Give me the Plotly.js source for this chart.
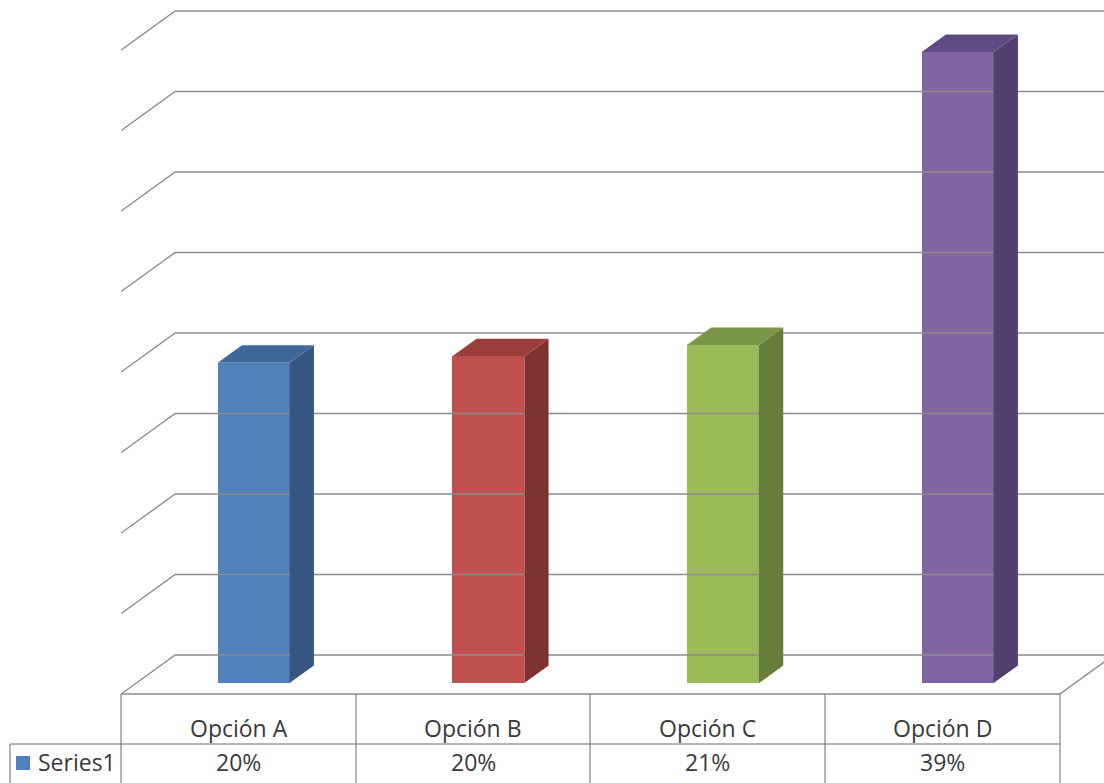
<!DOCTYPE html>
<html>
<head>
<meta charset="utf-8">
<script src="https://cdn.plot.ly/plotly-3.0.1.min.js"></script>
<style>
  html, body { margin: 0; padding: 0; background: #ffffff; overflow: hidden; }
  #chart { width: 1104px; height: 783px; }
</style>
</head>
<body>
<div id="chart"></div>
<script>
// ---- Data ----
const categories = ['Opción A', 'Opción B', 'Opción C', 'Opción D'];
const values = [19.9, 20.3, 21.0, 39.2];          // percent
const seriesName = 'Series1';
const gridValues = [0, 5, 10, 15, 20, 25, 30, 35, 40];

// ---- Styles ----
const frontColors = ['#4f81bd', '#c0504d', '#9bbb59', '#8064a2'];
const sideColors  = ['#35567f', '#7e3331', '#667d3b', '#533f6d'];
const topColors   = ['#3f6899', '#9b3e3b', '#7c9647', '#604b82'];
const gridColor = '#8c8c8c';
const tableColor = '#6a6a6a';
const textColor = '#3a3a3a';
const FONT = 'Open Sans, Noto Sans, sans-serif';

// ---- 3D projection geometry (oblique) ----
const W = 1104, H = 783;
const PX_PER_CAT = 234.67, X0_PX = 238.5;   // category 0 at front plane
const PX_PER_PCT = 16.1,   Y0_PX = 655;     // 0% on back wall
const DX = 54 / PX_PER_CAT;                 // full depth x-shift (front -> back)
const DY = 39 / PX_PER_PCT;                 // full depth y-shift (front -> back)
const BAR_W = 72 / PX_PER_CAT;
const D_FRONT = 0.28, D_BACK = 0.73;        // bar depth extent (0 = front, 1 = back)
const WALL_L = -0.5, WALL_R = 3.5;          // floor extent on front plane

function P(c, v, d) { return [c + d * DX, v - (1 - d) * DY]; }

const traces = [];

// Gridlines: left wall diagonal + back wall horizontal
gridValues.forEach(g => {
  const a = P(WALL_L, g, 0), b = P(WALL_L, g, 1), e = P(WALL_R, g, 1);
  traces.push({type: 'scatter', mode: 'lines', x: [a[0], b[0], e[0]], y: [a[1], b[1], e[1]],
    line: {color: gridColor, width: 1.4}, hoverinfo: 'skip', showlegend: false});
});
// Floor front edge and right diagonal
{
  const a = P(WALL_L, 0, 0), b = P(WALL_R, 0, 0), e = P(WALL_R, 0, 1);
  traces.push({type: 'scatter', mode: 'lines', x: [a[0], b[0], e[0]], y: [a[1], b[1], e[1]],
    line: {color: gridColor, width: 1.4}, hoverinfo: 'skip', showlegend: false});
}

// Bar front faces through the bar trace
const idx = categories.map((_, i) => i);
traces.push({
  type: 'bar', name: seriesName,
  x: idx.map(i => i + D_FRONT * DX),
  y: values,
  base: -(1 - D_FRONT) * DY,
  width: BAR_W,
  marker: {color: frontColors, line: {width: 0}},
  showlegend: false, hoverinfo: 'skip'
});

// Side and top faces
idx.forEach(i => {
  const v = values[i], hw = BAR_W / 2;
  const s = [P(i + hw, 0, D_FRONT), P(i + hw, v, D_FRONT), P(i + hw, v, D_BACK), P(i + hw, 0, D_BACK)];
  traces.push({type: 'scatter', mode: 'lines', fill: 'toself', fillcolor: sideColors[i],
    x: s.map(p => p[0]).concat([s[0][0]]), y: s.map(p => p[1]).concat([s[0][1]]),
    line: {width: 0, color: sideColors[i]}, hoverinfo: 'skip', showlegend: false});
  const t = [P(i - hw, v, D_FRONT), P(i + hw, v, D_FRONT), P(i + hw, v, D_BACK), P(i - hw, v, D_BACK)];
  traces.push({type: 'scatter', mode: 'lines', fill: 'toself', fillcolor: topColors[i],
    x: t.map(p => p[0]).concat([t[0][0]]), y: t.map(p => p[1]).concat([t[0][1]]),
    line: {width: 0, color: topColors[i]}, hoverinfo: 'skip', showlegend: false});
});

// ---- Data table (paper coords from pixel layout) ----
const px = x => x / W, py = y => 1 - y / H;
const colEdges = [121, 356, 590, 825, 1060];
const rowTop = 694, rowMid = 744, rowBot = 790, keyLeft = 10;
const shapes = [];
const L = (x0, y0, x1, y1) => shapes.push({type: 'line', xref: 'paper', yref: 'paper',
  x0: px(x0), y0: py(y0), x1: px(x1), y1: py(y1), line: {color: tableColor, width: 1}});
colEdges.forEach(x => L(x, rowTop, x, rowBot));
L(keyLeft, rowMid, colEdges[4], rowMid);
L(keyLeft, rowMid, keyLeft, rowBot);
// legend key square
shapes.push({type: 'rect', xref: 'paper', yref: 'paper', x0: px(16), x1: px(30), y0: py(756), y1: py(770),
  fillcolor: frontColors[0], line: {width: 0}});

const annotations = [];
const fnt = {family: FONT, size: 23, color: textColor};
categories.forEach((c, i) => {
  const cx = (colEdges[i] + colEdges[i + 1]) / 2;
  annotations.push({xref: 'paper', yref: 'paper', x: px(cx), y: py(728), text: c, showarrow: false,
    xanchor: 'center', yanchor: 'middle', font: fnt});
  annotations.push({xref: 'paper', yref: 'paper', x: px(cx), y: py(762), text: Math.round(values[i]) + '%',
    showarrow: false, xanchor: 'center', yanchor: 'middle', font: fnt});
});
annotations.push({xref: 'paper', yref: 'paper', x: px(36), y: py(762), text: seriesName, showarrow: false,
  xanchor: 'left', yanchor: 'middle', font: fnt});

const layout = {
  width: W, height: H,
  margin: {l: 0, r: 0, t: 0, b: 0, pad: 0},
  paper_bgcolor: '#ffffff', plot_bgcolor: 'rgba(0,0,0,0)',
  showlegend: false,
  xaxis: {range: [-X0_PX / PX_PER_CAT, (W - X0_PX) / PX_PER_CAT], visible: false, fixedrange: true},
  yaxis: {range: [(Y0_PX - H) / PX_PER_PCT, Y0_PX / PX_PER_PCT], visible: false, fixedrange: true},
  shapes: shapes,
  annotations: annotations,
  bargap: 0
};

Plotly.newPlot('chart', traces, layout, {displayModeBar: false, staticPlot: true});
</script>
</body>
</html>
